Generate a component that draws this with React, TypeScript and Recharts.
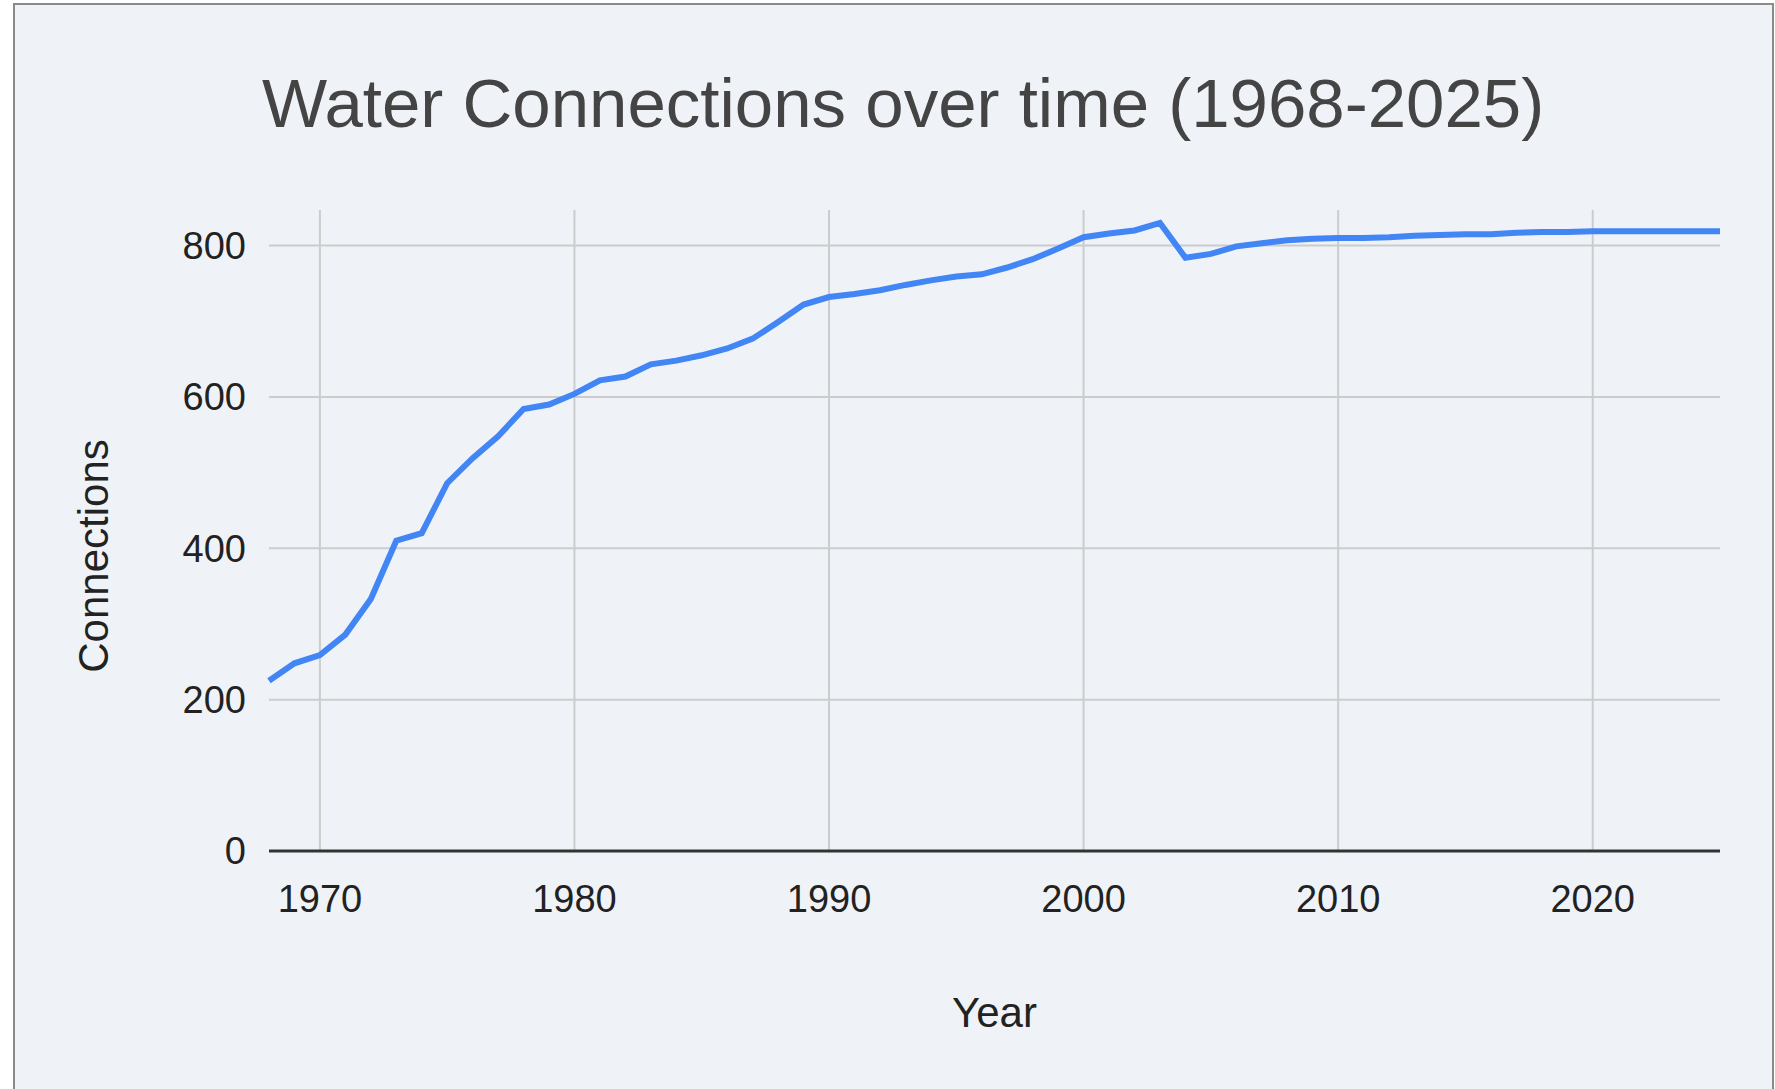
import { LineChart, Line, XAxis, YAxis, CartesianGrid, Label } from 'recharts';

const years = [
  1968, 1969, 1970, 1971, 1972, 1973, 1974, 1975, 1976, 1977,
  1978, 1979, 1980, 1981, 1982, 1983, 1984, 1985, 1986, 1987,
  1988, 1989, 1990, 1991, 1992, 1993, 1994, 1995, 1996, 1997,
  1998, 1999, 2000, 2001, 2002, 2003, 2004, 2005, 2006, 2007,
  2008, 2009, 2010, 2011, 2012, 2013, 2014, 2015, 2016, 2017,
  2018, 2019, 2020, 2021, 2022, 2023, 2024, 2025,
];

const connections = [
  225, 248, 259, 286, 333, 410, 420, 486, 519, 548,
  584, 590, 604, 622, 627, 643, 648, 655, 664, 677,
  699, 722, 732, 736, 741, 748, 754, 759, 762, 771,
  782, 796, 811, 816, 820, 830, 784, 789, 799, 803,
  807, 809, 810, 810, 811, 813, 814, 815, 815, 817,
  818, 818, 819, 819, 819, 819, 819, 819,
];

const xTicks = [1970, 1980, 1990, 2000, 2010, 2020];
const yTicks = [0, 200, 400, 600, 800];

const data = years.map((year, i) => ({ year, connections: connections[i] }));

const FONT = '"Liberation Sans", Arial, sans-serif';

export default function App() {
  return (
    <div
      style={{
        position: 'absolute',
        left: 0,
        top: 0,
        width: 1775,
        height: 1089,
        overflow: 'hidden',
        background: '#ffffff',
        fontFamily: FONT,
      }}
    >
      {/* chart frame */}
      <div
        style={{
          position: 'absolute',
          left: 13,
          top: 3,
          width: 1757,
          height: 1120,
          border: '2px solid #8a8a8a',
          background: '#eff3f8',
        }}
      />
      <div
        style={{
          position: 'absolute',
          left: 903,
          top: 69,
          transform: 'translateX(-50%)',
          whiteSpace: 'nowrap',
          fontSize: 69,
          lineHeight: 1,
          color: '#444444',
        }}
      >
        Water Connections over time (1968-2025)
      </div>
      <div style={{ position: 'absolute', left: 0, top: 0 }}>
        <LineChart
          width={1775}
          height={1089}
          data={data}
          margin={{ top: 210, right: 55, bottom: 0, left: 0 }}
        >
          {/* grid follows the axis ticks only, so no lines at the domain edges */}
          <CartesianGrid stroke="#cccccc" strokeWidth={2} syncWithTicks />
          <XAxis
            dataKey="year"
            type="number"
            domain={[1968, 2025]}
            ticks={xTicks}
            height={238}
            tickSize={0}
            tickMargin={34}
            axisLine={{ stroke: '#333333', strokeWidth: 3 }}
            tick={{ fontSize: 38, fill: '#222222', fontFamily: FONT }}
          >
            <Label
              value="Year"
              position="insideBottom"
              offset={62}
              style={{ fontSize: 42, fill: '#222222', fontFamily: FONT }}
            />
          </XAxis>
          <YAxis
            type="number"
            domain={[0, 847]}
            ticks={yTicks}
            width={269}
            tickSize={0}
            tickMargin={23}
            axisLine={false}
            tick={{ fontSize: 38, fill: '#222222', fontFamily: FONT }}
          >
            <Label
              content={() => (
                <text
                  x={93}
                  y={556}
                  transform="rotate(-90 93 556)"
                  textAnchor="middle"
                  dominantBaseline="central"
                  style={{ fontSize: 42, fill: '#222222', fontFamily: FONT }}
                >
                  Connections
                </text>
              )}
            />
          </YAxis>
          <Line
            type="linear"
            dataKey="connections"
            stroke="#4285f4"
            strokeWidth={6}
            dot={false}
            isAnimationActive={false}
          />
        </LineChart>
      </div>
    </div>
  );
}
